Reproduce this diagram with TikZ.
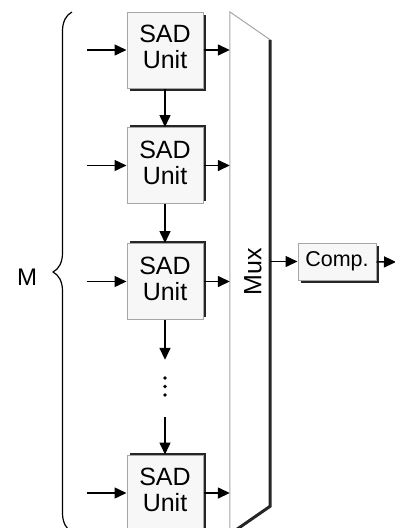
\documentclass[tikz,border=0pt]{standalone}
\usepackage{fontspec}
\setmainfont{Liberation Sans}
\usetikzlibrary{arrows.meta,shadows,decorations.pathreplacing}

\tikzset{
  sadbox/.style={draw=gray!70, fill=gray!6, line width=1pt, minimum width=76pt, minimum height=76pt,
    align=center, text depth=6pt, inner sep=0pt, font=\fontsize{25}{26}\selectfont},
  shadowdown/.style={drop shadow={shadow xshift=2.5pt, shadow yshift=-2.5pt, fill=black!85, opacity=1}},
  shadowup/.style={drop shadow={shadow xshift=2.5pt, shadow yshift=2.5pt, fill=black!85, opacity=1}},
  arr/.style={line width=1.5pt, -{Triangle[length=12pt,width=11pt]}},
}

\begin{document}
\begin{tikzpicture}[x=1pt,y=1pt]
    \useasboundingbox (0,0) rectangle (395,-528);
    \clip (0,0) rectangle (395,-528);

    % SAD units
    \node[sadbox, shadowdown] (sad1) at (165,-50) {SAD\\Unit};
    \node[sadbox, shadowup] (sad2) at (165,-165.5) {SAD\\Unit};
    \node[sadbox, shadowup] (sad3) at (165,-281.5) {SAD\\Unit};
    \node[sadbox, shadowup] (sad4) at (165,-493) {SAD\\Unit};
    \node[minimum width=10pt, minimum height=57pt, inner sep=0pt] (gap) at (165,-388.5) {};
    \foreach \y in {-378,-386.5,-395} \fill (165,\y) circle (1.8);

    % mux
    \node[minimum width=40pt, minimum height=522pt, inner sep=0pt] (mux) at (250,-273) {};
    \draw[draw=gray!70, line width=1pt] (mux.north west) -- ([yshift=-28pt]mux.north east)
        -- ([yshift=28pt]mux.south east) -- (mux.south west) -- cycle;
    \draw[line width=3pt, black!85] ([yshift=-28pt]mux.north east) -- ([yshift=28pt]mux.south east) -- (mux.south west);
    \node[rotate=90, font=\fontsize{25}{26}\selectfont] (muxlabel) at (253,-272) {Mux};

    % comparator
    \node[draw=gray!70, fill=gray!6, line width=1pt, shadowdown, minimum width=78pt, minimum height=37pt,
        font=\fontsize{21.5}{24}\selectfont] (comp) at (337,-261.5) {Comp.};
    \coordinate (out) at (396,-262);

    % brace
    \node[font=\fontsize{24}{26}\selectfont] (m) at (27,-277) {M};
    \draw[decorate, decoration={brace, amplitude=19pt}, line width=1.2pt] (72,-532) -- (72,-12);

    \foreach \i in {1,...,4} {
        \draw[arr] ([xshift=-40pt]sad\i.west) -- (sad\i.west);
        \draw[arr] (sad\i.east) -- (sad\i.east -| mux.west);
    }
    \draw[arr] (sad1) -- (sad2);
    \draw[arr] (sad2) -- (sad3);
    \draw[arr] (sad3) -- (gap);
    \draw[arr] (gap) -- (sad4);
    \draw[arr] (comp.west -| mux.east) -- (comp);
    \draw[arr] (comp) -- (out);
\end{tikzpicture}
\end{document}
